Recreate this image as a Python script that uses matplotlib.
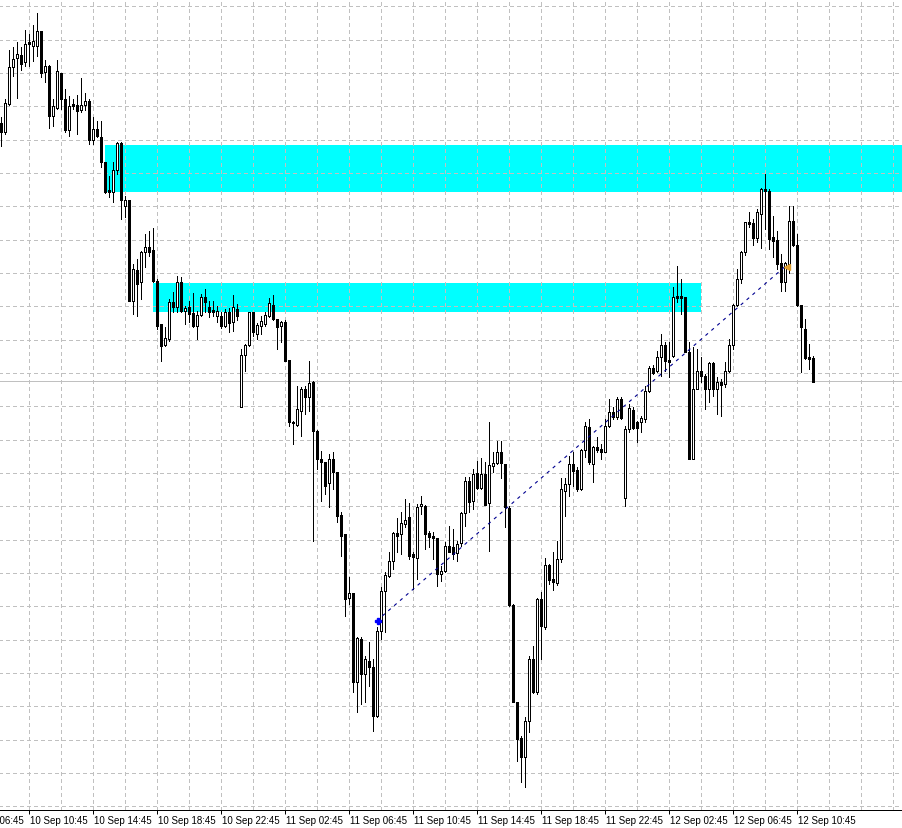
"""
plot.py
=======
M15 candlestick chart (10-12 Sep) in the MetaTrader style: two cyan
supply/demand zones, a dotted trend line and the bid line.
Output: out.png (902 x 829 px)
"""

import numpy as np
import pandas as pd
import matplotlib.pyplot as plt
from matplotlib.patches import Rectangle

# ── Data (price levels, one entry per 15-min bar) ────────────────────────────
opens = [705, 696, 724, 761, 770, 773, 766, 786, 782, 782, 797, 756, 762, 712, 720, 755,
         729, 698, 724, 723, 718, 723, 727, 688, 699, 691, 666, 638, 636, 658, 685, 622,
         628, 527, 558, 546, 576, 581, 578, 547, 504, 483, 489, 526, 521, 546, 517, 521,
         515, 502, 513, 531, 521, 518, 512, 512, 502, 516, 506, 519, 421, 473, 483, 516,
         494, 502, 504, 512, 523, 509, 502, 506, 468, 406, 403, 417, 439, 431, 446, 397,
         369, 366, 345, 369, 356, 313, 294, 230, 235, 146, 189, 154, 167, 161, 112, 197,
         237, 252, 267, 295, 294, 304, 311, 274, 270, 322, 322, 295, 292, 290, 254, 257,
         282, 281, 275, 285, 315, 347, 327, 355, 340, 354, 325, 362, 365, 376, 364, 320,
         223, 126, 90, 71, 107, 169, 136, 229, 201, 263, 249, 245, 269, 337, 344, 364,
         358, 339, 378, 401, 364, 381, 379, 376, 402, 416, 411, 429, 330, 399, 418, 406,
         406, 409, 437, 460, 457, 471, 483, 468, 472, 532, 532, 531, 476, 369, 439, 457,
         452, 439, 465, 439, 446, 444, 457, 483, 523, 549, 576, 606, 605, 590, 614, 639,
         637, 591, 588, 565, 546, 564, 607, 583, 523, 499, 471, 470]
highs = [711, 729, 778, 781, 786, 781, 798, 794, 803, 815, 797, 768, 763, 729, 768, 755,
         739, 732, 729, 733, 750, 735, 729, 711, 707, 707, 666, 652, 666, 686, 686, 632,
         628, 564, 569, 577, 594, 597, 600, 549, 504, 501, 529, 536, 552, 551, 522, 527,
         535, 517, 534, 539, 527, 527, 522, 516, 519, 520, 533, 524, 479, 484, 516, 516,
         505, 512, 516, 530, 533, 509, 507, 508, 468, 407, 442, 441, 442, 467, 447, 398,
         377, 366, 374, 376, 356, 316, 294, 251, 235, 191, 191, 172, 186, 169, 201, 241,
         256, 276, 296, 310, 316, 329, 325, 276, 324, 332, 323, 297, 296, 290, 262, 286,
         302, 299, 287, 316, 351, 351, 359, 367, 370, 366, 406, 376, 387, 387, 364, 322,
         224, 126, 92, 111, 172, 182, 230, 236, 270, 264, 276, 287, 350, 350, 372, 376,
         361, 379, 406, 409, 382, 391, 384, 409, 429, 421, 431, 431, 402, 424, 421, 407,
         412, 442, 462, 463, 477, 494, 486, 486, 541, 562, 549, 531, 486, 481, 479, 471,
         454, 466, 466, 451, 449, 466, 489, 524, 559, 577, 606, 616, 609, 619, 640, 654,
         639, 612, 597, 574, 566, 622, 622, 594, 523, 509, 484, 472]
lows = [682, 694, 723, 752, 730, 758, 762, 762, 767, 772, 751, 746, 700, 702, 719, 719,
        696, 692, 719, 694, 716, 718, 684, 684, 691, 661, 635, 631, 626, 654, 609, 611,
        527, 514, 512, 529, 561, 572, 546, 499, 467, 482, 487, 516, 516, 516, 504, 506,
        501, 489, 512, 516, 511, 512, 506, 500, 501, 496, 497, 508, 421, 457, 482, 492,
        489, 494, 502, 511, 508, 479, 486, 467, 402, 384, 402, 392, 414, 417, 287, 359,
        327, 334, 321, 339, 306, 272, 212, 224, 136, 116, 124, 126, 142, 97, 111, 189,
        196, 251, 259, 276, 274, 301, 269, 239, 249, 314, 279, 281, 269, 242, 247, 256,
        276, 269, 267, 282, 302, 316, 319, 339, 339, 323, 277, 356, 364, 350, 301, 222,
        126, 67, 46, 41, 96, 135, 134, 169, 199, 244, 238, 243, 266, 312, 332, 342,
        337, 338, 371, 364, 346, 376, 369, 376, 401, 409, 409, 409, 322, 396, 399, 386,
        396, 406, 436, 454, 456, 452, 457, 451, 471, 526, 514, 476, 369, 369, 439, 446,
        419, 426, 432, 414, 412, 441, 456, 479, 522, 545, 573, 601, 583, 586, 580, 599,
        579, 571, 559, 537, 537, 555, 582, 522, 456, 469, 459, 446]
closes = [696, 725, 761, 769, 774, 764, 784, 784, 787, 797, 755, 762, 712, 722, 757, 729,
          698, 722, 722, 717, 723, 727, 688, 699, 692, 666, 636, 636, 658, 685, 628, 628,
          527, 559, 544, 576, 581, 576, 547, 502, 482, 490, 526, 521, 546, 517, 520, 514,
          502, 513, 531, 526, 516, 516, 517, 502, 516, 505, 521, 512, 473, 483, 516, 496,
          503, 507, 513, 525, 509, 501, 506, 467, 406, 405, 419, 439, 431, 445, 397, 369,
          366, 342, 369, 356, 312, 292, 229, 235, 146, 190, 154, 169, 161, 112, 197, 237,
          253, 267, 295, 292, 305, 308, 272, 271, 321, 324, 294, 291, 290, 254, 257, 282,
          276, 274, 284, 315, 347, 326, 354, 340, 354, 323, 363, 365, 376, 365, 321, 223,
          126, 89, 71, 107, 169, 136, 229, 202, 263, 248, 246, 269, 339, 344, 364, 357,
          339, 378, 402, 366, 381, 378, 376, 402, 416, 411, 429, 410, 399, 420, 400, 400,
          410, 437, 460, 455, 471, 483, 467, 466, 531, 530, 530, 476, 369, 439, 457, 452,
          439, 465, 439, 446, 443, 457, 483, 523, 549, 576, 606, 604, 590, 616, 639, 637,
          589, 587, 564, 546, 565, 607, 583, 523, 501, 470, 469, 446]

# bar-time of the first candle (M15 chart)
start_time = "2024-09-10 09:00"

# time-axis labels
tick_labels = ["10 Sep 06:45", "10 Sep 10:45", "10 Sep 14:45", "10 Sep 18:45",
               "10 Sep 22:45", "11 Sep 02:45", "11 Sep 06:45", "11 Sep 10:45",
               "11 Sep 14:45", "11 Sep 18:45", "11 Sep 22:45", "12 Sep 02:45",
               "12 Sep 06:45", "12 Sep 10:45"]

# zones: (first bar, last bar, low price, high price)
zone_upper = (26, 240, 636, 683)
zone_lower = (38, 175, 516, 545)

# trend line: (bar, price) start / end
trend_start = (94, 207)
trend_end = (196, 561)

bid_price = 447

# ── Derived ──────────────────────────────────────────────────────────────────
o = np.array(opens, float)
h = np.array(highs, float)
l = np.array(lows, float)
c = np.array(closes, float)
n = len(o)
x = np.arange(n)

t0 = pd.Timestamp(start_time)
tick_pos = [(pd.Timestamp("2024 " + s) - t0) / pd.Timedelta("15min") for s in tick_labels]

# ── Figure ───────────────────────────────────────────────────────────────────
W, H = 902, 829
PX = 0.72  # one pixel in points
fig = plt.figure(figsize=(W / 100, H / 100), dpi=100)
fig.patch.set_facecolor("white")
ax = fig.add_axes([0, 18 / H, 1, 811 / H])
ax.set_facecolor("white")

# zones
for x0, x1, lo, hi in (zone_upper, zone_lower):
    ax.add_patch(Rectangle((x0, lo), x1 - x0, hi - lo, facecolor="#00FFFF",
                           edgecolor="none", zorder=1))

# dashed grid
grid_kw = dict(color="#C0C0C0", lw=PX, linestyles=(0, (4, 3)), zorder=2,
               antialiased=False)
ax.vlines(np.arange(-1, W / 4 + 8, 8), 18, 829, **grid_kw)
ax.hlines(np.arange(821.7, 18, -33.333), -1, W / 4 + 1, **grid_kw)

# bid line
ax.axhline(bid_price, color="#C0C0C0", lw=PX, zorder=2.5, antialiased=False)

# candles
ax.vlines(x, l, h, color="black", lw=PX, zorder=3, antialiased=False)
bull = c >= o
body_lo = np.minimum(o, c)
body_h = np.abs(c - o)
ax.bar(x[bull], body_h[bull], bottom=body_lo[bull], width=0.5,
       facecolor="white", edgecolor="black", lw=PX, zorder=4, antialiased=False)
ax.bar(x[~bull], body_h[~bull], bottom=body_lo[~bull], width=0.5,
       facecolor="black", edgecolor="black", lw=PX, zorder=4, antialiased=False)

# trend line with its anchor markers
ax.plot([trend_start[0], trend_end[0]], [trend_start[1], trend_end[1]],
        color="#000090", lw=0.8, ls=(0, (3, 4)), zorder=5)
ax.plot(trend_start[0] + 0.3, trend_start[1], marker="P", ms=5, color="#0000FF",
        mec="#0000FF", zorder=6)
ax.plot(trend_end[0] + 0.6, trend_end[1], marker="<", ms=5, color="#E0A030",
        mec="#E0A030", zorder=6)

# axes cosmetics
for side in ("top", "right", "left"):
    ax.spines[side].set_visible(False)
ax.spines["bottom"].set_color("black")
ax.spines["bottom"].set_linewidth(PX)
ax.set_yticks([])
ax.set_xticks(tick_pos)
ax.set_xticklabels([])
ax.tick_params(axis="x", direction="out", length=3, width=PX, colors="black")

# time labels as plain text so the clipped first one still shows
for pos, lab in zip(tick_pos, tick_labels):
    ax.text(pos + 0.3, -5 / 811, lab, transform=ax.get_xaxis_transform(),
            ha="left", va="top", fontsize=7, family="Liberation Sans",
            color="black", clip_on=False)

# limits last: set_xticks would otherwise widen the view
ax.set_xlim(-0.125, -0.125 + W / 4)
ax.set_ylim(18, 829)

fig.savefig("out.png", dpi=100)
